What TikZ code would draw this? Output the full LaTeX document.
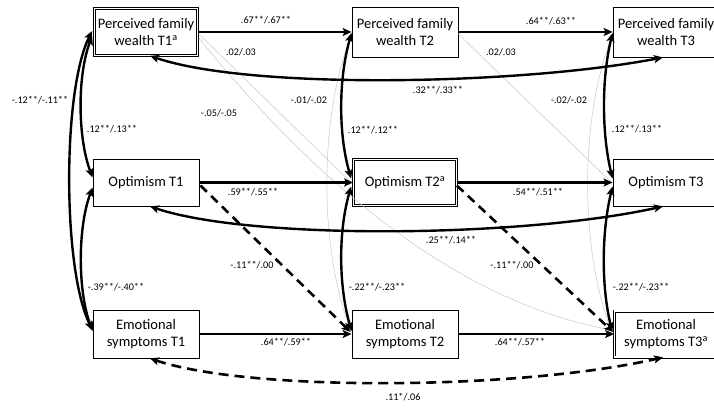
\documentclass[tikz,border=0pt]{standalone}
\usepackage{fontspec}
\setmainfont{Carlito}
\usetikzlibrary{arrows.meta,calc}
\begin{document}
\begin{tikzpicture}[x=1pt,y=-1pt,
  var/.style={draw=black, line width=0.8pt, minimum width=106pt, inner sep=0pt,
    align=center, font=\fontsize{14.5}{17}\selectfont},
  dbl/.style={var, double=white, double distance=1.6pt, line width=0.7pt, minimum width=103pt},
  tip/.tip={Stealth[length=9pt,width=8pt,inset=2pt]},
  reg/.style={line width=2.6pt, -tip},
  xlag/.style={line width=2.6pt, dash pattern=on 9pt off 6pt, -tip},
  cov/.style={line width=2.4pt, tip-tip},
  dcov/.style={line width=2.6pt, dash pattern=on 10pt off 6pt, tip-tip},
  weak/.style={draw=black!22, line width=0.5pt},
  lab/.style={font=\fontsize{10.2}{12}\selectfont, inner sep=0pt}]
\useasboundingbox (0,0) rectangle (714,407);

% variables at the three waves
\node[dbl, minimum height=47pt] (pfw1) at (146,32) {Perceived family\\wealth T1\textsuperscript{a}};
\node[var, minimum height=47pt] (opt1) at (146,182.5) {Optimism T1};
\node[var, minimum height=48pt] (es1) at (146,334) {Emotional\\symptoms T1};
\node[var, minimum height=50pt] (pfw2) at (405,32) {Perceived family\\wealth T2};
\node[dbl, minimum height=46pt] (opt2) at (405,182.5) {Optimism T2\textsuperscript{a}};
\node[var, minimum height=48pt] (es2) at (405,334) {Emotional\\symptoms T2};
\node[var, minimum height=50pt] (pfw3) at (666,32) {Perceived family\\wealth T3};
\node[var, minimum height=47pt] (opt3) at (666,182.5) {Optimism T3};
\node[dbl, minimum height=46pt] (es3) at (666,334) {Emotional\\symptoms T3\textsuperscript{a}};

% non-significant paths and correlations
\draw[weak] ($(pfw1.east)+(1,2)$) -- ($(opt2.west)+(-2,0)$);
\draw[weak] ($(pfw2.east)+(0,2)$) -- ($(opt3.west)+(-1,0)$);
\draw[weak] ($(pfw1.east)+(1,6)$) .. controls (330,200) and (470,305) .. ($(es3.west)+(-2,-4)$);
\draw[weak] ($(pfw2.west)+(0,3)$) .. controls +(-33,80) and +(-33,-80) .. ($(es2.west)+(0,-2)$);
\draw[weak] ($(pfw3.west)+(0,3)$) .. controls +(-33,80) and +(-33,-80) .. ($(es3.west)+(-2,-2)$);

% autoregressive paths
\draw[reg] (pfw1.east) -- (pfw2.west);
\draw[reg] (pfw2.east) -- (pfw3.west);
\draw[reg] (opt1.east) -- (opt2.west);
\draw[reg] (opt2.east) -- (opt3.west);
\draw[reg] (es1.east) -- (es2.west);
\draw[reg] (es2.east) -- (es3.west);

% cross-lagged paths
\draw[xlag] ($(opt1.east)+(1,3)$) -- ($(es2.west)+(-1,-2)$);
\draw[xlag] ($(opt2.east)+(0,3)$) -- ($(es3.west)+(-1,-2)$);

% within-wave correlations
\draw[cov] ($(pfw1.west)+(-2,-1)$) .. controls +(-30,60) and +(-30,-60) .. ($(es1.west)+(0,-4)$);
\draw[cov] ($(pfw1.west)+(-2,4)$) .. controls +(-15,40) and +(-15,-40) .. ($(opt1.west)+(0,-5)$);
\draw[cov] ($(opt1.west)+(0,5)$) .. controls +(-15,40) and +(-15,-40) .. ($(es1.west)+(0,-3)$);
\draw[cov] ($(pfw2.west)+(0,1)$) .. controls +(-13,45) and +(-13,-45) .. ($(opt2.west)+(-2,-4)$);
\draw[cov] ($(opt2.west)+(-2,4)$) .. controls +(-13,45) and +(-13,-45) .. ($(es2.west)+(0,-3)$);
\draw[cov] ($(pfw3.west)+(0,1)$) .. controls +(-11,45) and +(-11,-45) .. ($(opt3.west)+(0,-4)$);
\draw[cov] ($(opt3.west)+(0,4)$) .. controls +(-11,45) and +(-11,-45) .. ($(es3.west)+(-2,-3)$);

% correlations between the first and third waves
\draw[cov] ($(pfw1.south)+(4,0)$) .. controls (250,90) and (520,85) .. ($(pfw3.south)+(-3,0)$);
\draw[cov] ($(opt1.south)+(4,0)$) .. controls (250,240) and (520,238) .. ($(opt3.south)+(-3,0)$);
\draw[dcov] ($(es1.south)+(4,0)$) .. controls (250,392) and (520,390) .. ($(es3.south)+(-3,0)$);

% coefficients
\node[lab] (l1) at (266,20) {.67**/.67**};
\node[lab] (l2) at (551,21) {.64**/.63**};
\node[lab] (l3) at (241,52) {.02/.03};
\node[lab] (l4) at (501,52) {.02/.03};
\node[lab] (l5) at (219,113) {-.05/-.05};
\node[lab] (l6) at (309,100) {-.01/-.02};
\node[lab] (l7) at (569,100) {-.02/-.02};
\node[lab] (l8) at (40,100) {-.12**/-.11**};
\node[lab] (l9) at (112,129) {.12**/.13**};
\node[lab] (l10) at (373,130) {.12**/.12**};
\node[lab] (l11) at (637,129) {.12**/.13**};
\node[lab] (l12) at (438,90) {.32**/.33**};
\node[lab] (l13) at (253,192) {.59**/.55**};
\node[lab] (l14) at (538,192) {.54**/.51**};
\node[lab] (l15) at (451,240) {.25**/.14**};
\node[lab] (l16) at (252,265) {-.11**/.00};
\node[lab] (l17) at (512,265) {-.11**/.00};
\node[lab] (l18) at (116,287) {-.39**/-.40**};
\node[lab] (l19) at (377,287) {-.22**/-.23**};
\node[lab] (l20) at (641,287) {-.22**/-.23**};
\node[lab] (l21) at (286,342) {.64**/.59**};
\node[lab] (l22) at (520,342) {.64**/.57**};
\node[lab] (l23) at (403,397) {.11*/.06};
\end{tikzpicture}
\end{document}
